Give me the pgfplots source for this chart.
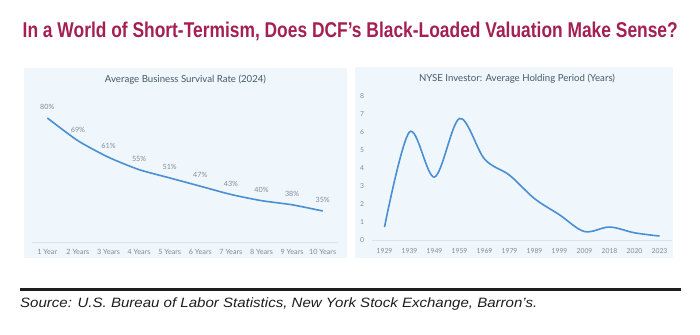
\documentclass[border=0pt]{standalone}
\usepackage{pgfplots}
\pgfplotsset{compat=1.18}
\usepackage{fontspec}
\usepackage{graphicx}
\setmainfont{Liberation Sans}
\newfontfamily\panelfont{Lato}

\definecolor{headline}{HTML}{A41F52}
\definecolor{panelbg}{HTML}{EFF7FC}
\definecolor{paneltitle}{HTML}{455966}
\definecolor{ticktext}{HTML}{808C95}
\definecolor{axisgray}{HTML}{DCE3E8}
\definecolor{seriesblue}{HTML}{4A8FD4}
\definecolor{rulecolor}{HTML}{1E1E1E}

\pgfplotsset{
  panelaxis/.style={
    scale only axis,
    anchor=south west,
    axis x line=bottom,
    axis line style={axisgray, line width=0.6bp, -},
    major tick length=0pt,
    tick style={draw=none},
    xtick=data,
    tick label style={text=ticktext, inner sep=0pt},
    /pgf/number format/assume math mode=true,
    clip=false,
  },
}

\begin{document}
\begin{tikzpicture}[x=1bp,y=1bp]
  % canvas
  \fill[white] (0,0) rectangle (700,334);

  % headline
  \node[anchor=base west, inner sep=0pt, text=headline] at (22.5,296.3)
    {\resizebox{655bp}{15.5bp}{\bfseries In a World of Short-Termism, Does DCF’s Black-Loaded Valuation Make Sense?}};

  % panel backgrounds
  \fill[panelbg] (24,76) rectangle (347,266);
  \fill[panelbg] (355,76) rectangle (673,267);

  % panel titles
  \node[inner sep=0pt, text=paneltitle] at (185.5,254)
    {\resizebox{161bp}{!}{\panelfont Average Business Survival Rate (2024)}};
  \node[inner sep=0pt, text=paneltitle] at (517,255)
    {\resizebox{196bp}{!}{\panelfont NYSE Investor: Average Holding Period (Years)}};

  % left: survival rate by business age
  \begin{axis}[
    panelaxis,
    at={(32bp,92bp)},
    width=306bp, height=144.7bp,
    xmin=-0.5, xmax=9.5,
    ymin=20, ymax=90,
    axis y line=none,
    xticklabels={1 Year,2 Years,3 Years,4 Years,5 Years,6 Years,7 Years,8 Years,9 Years,10 Years},
    xticklabel style={font=\panelfont\fontsize{7.2bp}{8bp}\selectfont, anchor=north, yshift=-7bp},
    nodes near coords={\pgfmathprintnumber{\pgfplotspointmeta}\%},
    nodes near coords style={font=\panelfont\fontsize{7.2bp}{8bp}\selectfont, text=ticktext, anchor=south, inner sep=0pt, yshift=7.5bp},
  ]
    \addplot[seriesblue, line width=1.6bp, smooth, tension=0.4, mark=none] coordinates {
      (0,80) (1,69) (2,61) (3,55) (4,51) (5,47) (6,43) (7,40) (8,38) (9,35)
    };
  \end{axis}

  % right: NYSE average holding period
  \begin{axis}[
    panelaxis,
    at={(372bp,94bp)},
    width=300bp, height=144bp,
    xmin=-0.5, xmax=11.5,
    ymin=0, ymax=8,
    axis y line=none,
    xticklabels={1929,1939,1949,1959,1969,1979,1989,1999,2009,2018,2020,2023},
    xticklabel style={font=\panelfont\fontsize{6.8bp}{8bp}\selectfont, anchor=north, yshift=-8bp},
  ]
    \addplot[seriesblue, line width=1.6bp, smooth, tension=0.55, mark=none] coordinates {
      (0,0.72) (1,6.0) (2,3.5) (3,6.75) (4,4.5) (5,3.6) (6,2.3) (7,1.4) (8,0.47) (9,0.72) (10,0.4) (11,0.22)
    };
    % y scale numbers along the left edge
    \pgfplotsinvokeforeach{0,...,8}{
      \node[font=\panelfont\fontsize{6.8bp}{8bp}\selectfont, text=ticktext, inner sep=0pt] at (axis cs:-0.5,#1) [xshift=-10bp] {#1};
    }
  \end{axis}

  % footer rule and source line
  \fill[rulecolor] (20,43) rectangle (681,46);
  \node[anchor=base west, inner sep=0pt, text=rulecolor] at (20,26.3)
    {\resizebox{517bp}{9.8bp}{\itshape Source: U.S. Bureau of Labor Statistics, New York Stock Exchange, Barron’s.}};
\end{tikzpicture}
\end{document}
